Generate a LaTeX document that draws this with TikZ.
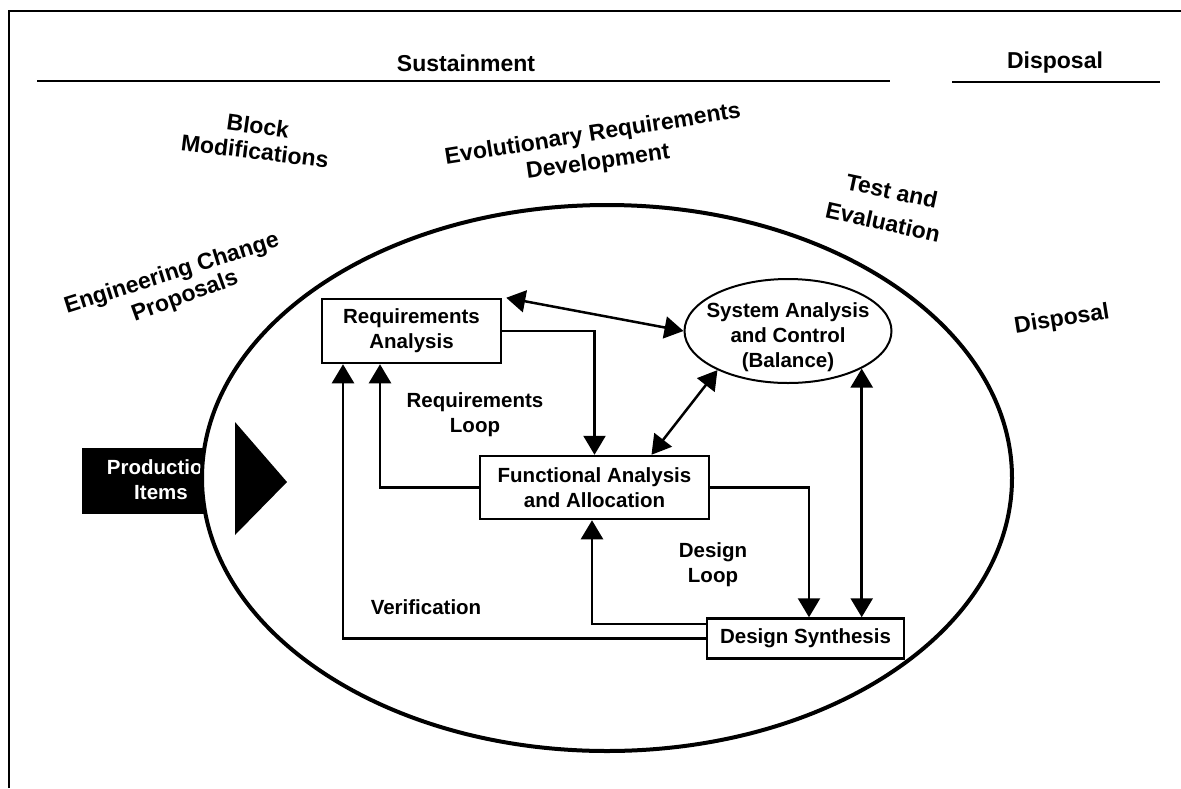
\documentclass[tikz,border=0pt]{standalone}
\usepackage{fontspec}
\setmainfont{Liberation Sans}
\usetikzlibrary{arrows.meta,shapes.geometric}
\begin{document}
\begin{tikzpicture}[x=1pt,y=-1pt,
  lbl/.style={font=\bfseries\fontsize{20.5}{25}\selectfont, align=center, inner sep=0pt},
  big/.style={font=\bfseries\fontsize{23}{27}\selectfont, align=center, inner sep=0pt},
  box/.style={lbl, draw, line width=2.5pt},
  tip/.tip={Triangle[length=19pt,width=22pt]},
  conn/.style={line width=2.5pt, -tip},
  dconn/.style={line width=2.5pt, tip-tip},
]
\useasboundingbox (0,0) rectangle (1181,788);

% frame (top and left only)
\draw[line width=2pt] (9,788) -- (9,11) -- (1181,11);

% phase headings
\node[big] (sust) at (466,63) {Sustainment};
\node[big] (disp) at (1055,63) {Disposal};
\draw[line width=2.2pt] (37,81) -- (890,81);
\draw[line width=2.2pt] (952,82) -- (1160,82);

% outer labels
\node[big, rotate=-8] (bm1) at (258,126) {Block};
\node[big, rotate=-7] (bm2) at (255,151) {Modifications};
\node[big, rotate=9] (erd1) at (593,135) {Evolutionary Requirements};
\node[big, rotate=8] (erd2) at (598,163) {Development};
\node[big, rotate=-12] (te1) at (892,191) {Test and};
\node[big, rotate=-12.5] (te2) at (883,222) {Evaluation};
\node[big, rotate=9] (disp2) at (1062,320) {Disposal};
\node[big, rotate=17.5] (ecp1) at (172,274) {Engineering Change};
\node[big, rotate=20] (ecp2) at (185,297) {Proposals};

% production items block (partly hidden by ellipse)
\fill (82,448) rectangle (250,514);
\node[lbl, text=white] (prod) at (161,480) {Production\\Items};

% big ellipse
\draw[line width=4pt, fill=white] (607,478) ellipse [x radius=405pt, y radius=273pt];

% triangle
\fill (235,422) -- (235,535) -- (287,482) -- cycle;

% inner nodes
\node[box, minimum width=179pt, minimum height=64pt] (ra) at (411.5,331) {Requirements\\Analysis};
\node[draw, line width=2pt, ellipse, minimum width=207pt, minimum height=104pt, inner sep=0pt] (sa) at (788,331) {};
\node[lbl] (satxt) at (788,337) {System Analysis\\and Control\\(Balance)};
\node[box, minimum width=229pt, minimum height=63pt] (fa) at (594.5,487.5) {Functional Analysis\\and Allocation};
\node[box, minimum width=197pt, minimum height=40pt] (ds) at (805.5,638.5) {Design Synthesis};

% loop labels
\node[lbl] (rl) at (475,415) {Requirements\\Loop};
\node[lbl] (dl) at (713,565) {Design\\Loop};
\node[lbl] (ver) at (426,607) {Verification};

% connectors
\draw[dconn] ([xshift=4pt]ra.north east) -- (sa.west);
\draw[conn] (ra.east) -| (fa.north);
\draw[conn] (fa.west) -| ([xshift=-31.5pt]ra.south);
\draw[conn] (ds.west) -| ([xshift=-68.5pt]ra.south);
\draw[conn] ([yshift=14.5pt]ds.west) -| ([xshift=-2.5pt]fa.south);
\draw[conn] (fa.east) -| ([xshift=3.5pt]ds.north);
\draw[dconn] (sa.-27) -- (sa.-27 |- ds.north);
\draw[dconn] (sa.-151) -- ([xshift=57pt]fa.north);
\end{tikzpicture}
\end{document}
